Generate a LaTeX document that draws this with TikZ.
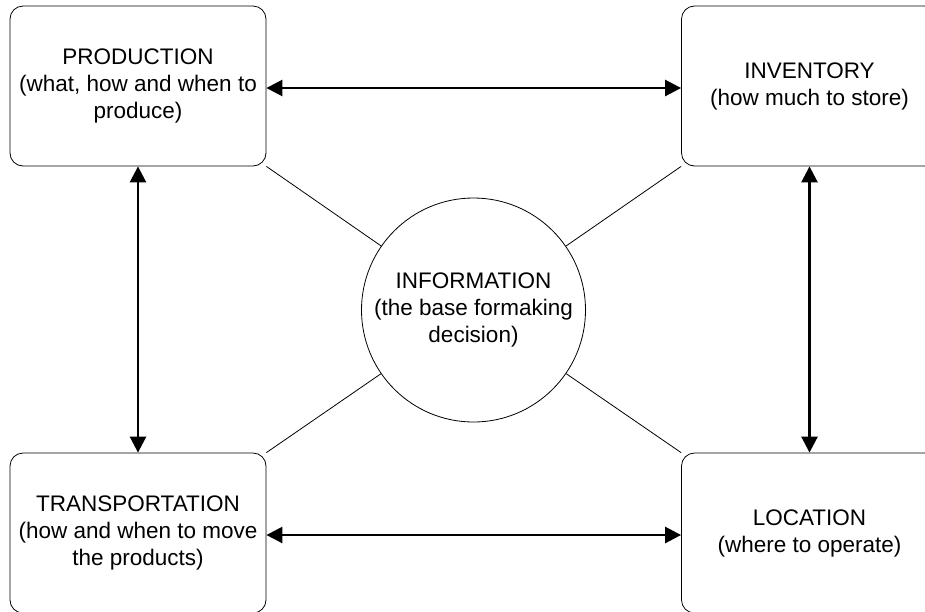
\documentclass[tikz,border=0pt]{standalone}
\usepackage{fontspec}
\setmainfont{Liberation Sans}
\usetikzlibrary{arrows.meta}
\begin{document}
\begin{tikzpicture}[x=1pt,y=-1pt,
  box/.style={draw, line width=0.8pt, rounded corners=13pt, minimum width=256pt, minimum height=160pt, inner sep=0pt, align=center, font=\fontsize{22.5}{27}\selectfont},
  infocircle/.style={draw, line width=0.8pt, circle, minimum size=224pt, inner sep=0pt, align=center, font=\fontsize{22.5}{27}\selectfont},
  biarrow/.style={line width=2.6pt, {Triangle[length=16pt,width=16pt]}-{Triangle[length=16pt,width=16pt]}},
  link/.style={line width=0.8pt}]
\useasboundingbox (0,0) rectangle (925,611);
\clip (0,0) rectangle (925,611);
\node[box] (tl) at (138,86) {PRODUCTION\\(what, how and when to\\produce)};
\node[box] (tr) at (809.5,86) {INVENTORY\\(how much to store)};
\node[box] (bl) at (138,533) {TRANSPORTATION\\(how and when to move\\the products)};
\node[box] (br) at (809.5,533) {LOCATION\\(where to operate)};
\node[infocircle] (info) at (473.5,310) {INFORMATION\\(the base formaking\\decision)};
\draw[biarrow] ([yshift=-2pt]tl.east) -- ([yshift=-2pt]tr.west);
\draw[biarrow] ([yshift=-2pt]bl.east) -- ([yshift=-2pt]br.west);
\draw[biarrow] (tl) -- (bl);
\draw[biarrow] (tr) -- (br);
\draw[link] (tl.south east) -- (info);
\draw[link] (tr.south west) -- (info);
\draw[link] (bl.north east) -- (info);
\draw[link] (br.north west) -- (info);
\end{tikzpicture}
\end{document}
